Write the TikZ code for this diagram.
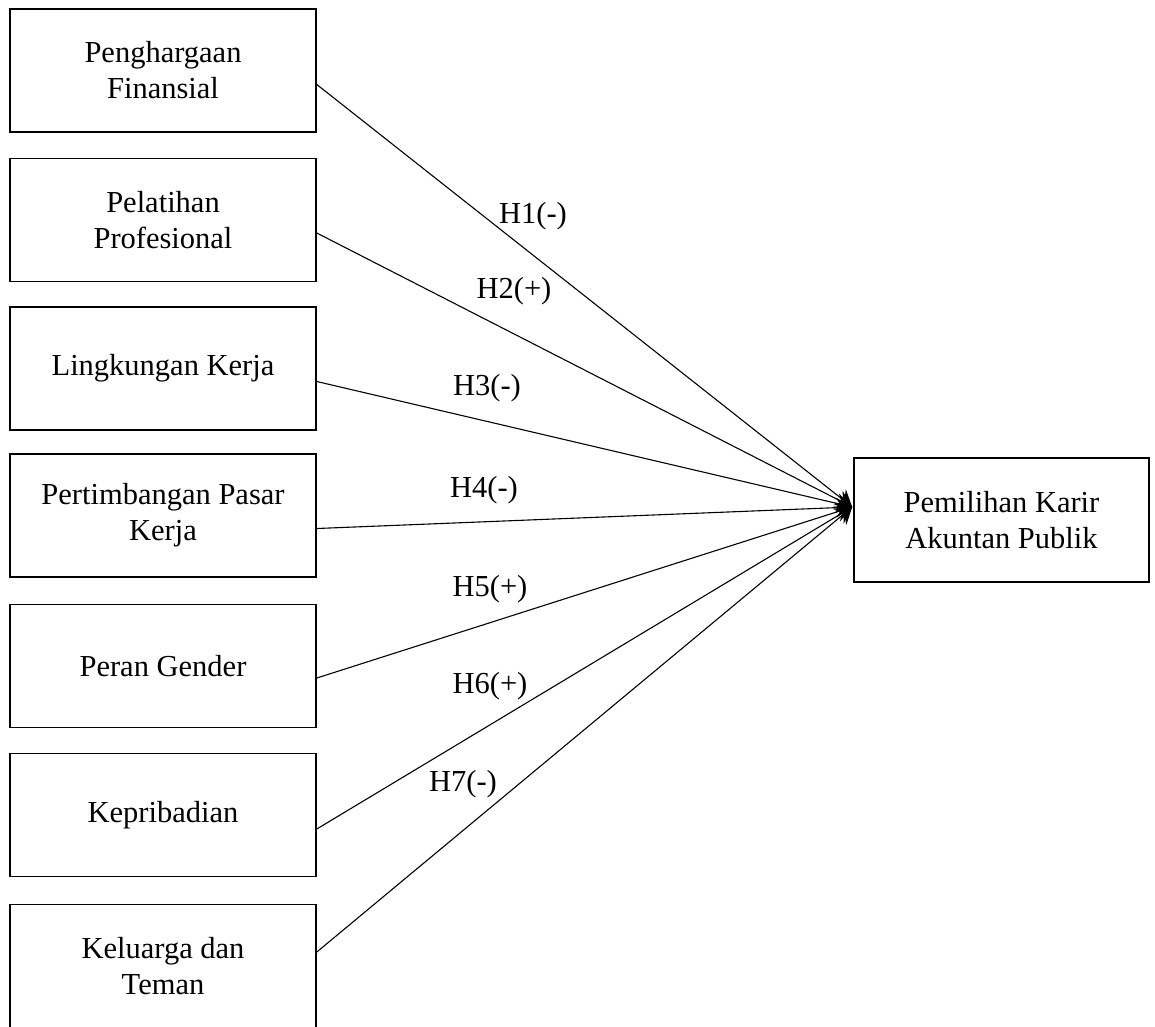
\documentclass[tikz,border=0pt]{standalone}
\usepackage{fontspec}
\setmainfont{Liberation Serif}
\usetikzlibrary{arrows.meta}
\begin{document}
\begin{tikzpicture}[x=1pt,y=-1pt,
  box/.style={draw, line width=1.6pt, inner sep=0pt, align=center,
    minimum width=306pt, minimum height=123pt,
    font=\fontsize{30.5}{36}\selectfont},
  link/.style={line width=1.1pt, -{Stealth[length=16pt,width=20pt,inset=6pt]}},
  lab/.style={anchor=base, inner sep=0pt, font=\fontsize{30.5}{36}\selectfont}]
\useasboundingbox (0,0) rectangle (1155,1026);
\node[box] (b1) at (163,70.5) {Penghargaan\\Finansial};
\node[box] (b2) at (163,220) {Pelatihan\\Profesional};
\node[box] (b3) at (163,368.5) {Lingkungan Kerja};
\node[box] (b4) at (163,515.5) {Pertimbangan Pasar\\Kerja};
\node[box] (b5) at (163,666) {Peran Gender};
\node[box] (b6) at (163,815) {Kepribadian};
\node[box] (b7) at (163,966) {Keluarga dan\\Teman};
\node[box, minimum width=295pt, minimum height=124pt] (r) at (1001.5,520) {Pemilihan Karir\\Akuntan Publik};
\coordinate (t) at ([xshift=-1pt,yshift=13pt]r.west);
\draw[link] ([yshift=-14pt]b1.east) -- (t);
\draw[link] ([yshift=-13pt]b2.east) -- (t);
\draw[link] ([yshift=-13pt]b3.east) -- (t);
\draw[link] ([yshift=-13pt]b4.east) -- (t);
\draw[link] ([yshift=-12pt]b5.east) -- (t);
\draw[link] ([yshift=-14pt]b6.east) -- (t);
\draw[link] ([yshift=14pt]b7.east) -- (t);
\node[lab] (h1) at (533,223) {H1(-)};
\node[lab] (h2) at (514,298) {H2(+)};
\node[lab] (h3) at (487,395) {H3(-)};
\node[lab] (h4) at (484,497) {H4(-)};
\node[lab] (h5) at (490,596) {H5(+)};
\node[lab] (h6) at (490,693) {H6(+)};
\node[lab] (h7) at (463,791) {H7(-)};
\end{tikzpicture}
\end{document}
